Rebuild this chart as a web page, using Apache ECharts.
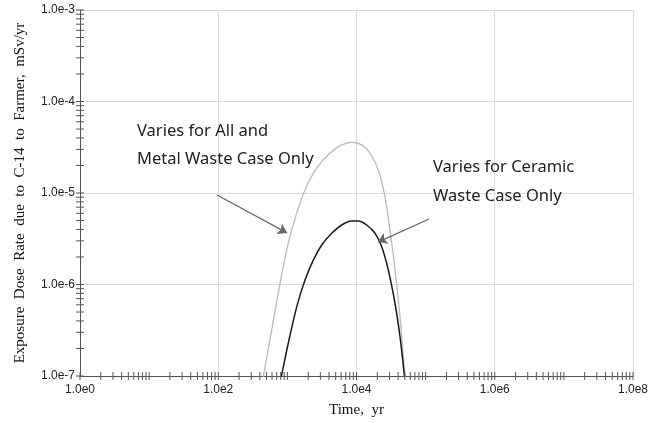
<!DOCTYPE html>
<html>
<head>
<meta charset="utf-8">
<script src="https://cdn.jsdelivr.net/npm/echarts@6/dist/echarts.min.js"></script>
<style>html,body{margin:0;padding:0;background:#fff}#chart{width:661px;height:423px}</style>
</head>
<body>
<div id="chart"></div>
<script>
// time (yr) and dose rate (mSv/yr)
var allTime = [380, 448, 593, 782, 1030, 1365, 1799, 2372, 3140, 4380, 6110, 8530, 11900, 15670, 20660, 25800, 30500, 36100, 42600, 47500, 50300, 54300];
var allDose = [5e-8, 9.8e-8, 3.18e-7, 1.03e-6, 2.82e-6, 6.0e-6, 1.08e-5, 1.64e-5, 2.2e-5, 2.83e-5, 3.35e-5, 3.58e-5, 3.35e-5, 2.72e-5, 1.78e-5, 9.1e-6, 3.95e-6, 1.44e-6, 4.45e-7, 1.63e-7, 9.8e-8, 5e-8];
var ceramicTime = [682, 828, 1030, 1365, 1799, 2372, 3140, 4380, 6110, 8530, 10600, 14060, 18530, 23170, 28840, 36100, 42600, 49200, 54800];
var ceramicDose = [5e-8, 1.03e-7, 2.28e-7, 5.7e-7, 1.12e-6, 1.85e-6, 2.7e-6, 3.63e-6, 4.47e-6, 4.94e-6, 4.94e-6, 4.47e-6, 3.63e-6, 2.59e-6, 1.44e-6, 6.2e-7, 2.69e-7, 1.03e-7, 5e-8];

// log tick positions (major + minor)
var xTicks = [];
for (var e = 0; e < 8; e++) for (var m = 1; m < 10; m++) xTicks.push(m * Math.pow(10, e));
xTicks.push(1e8);
var yTicks = [];
for (var e = -7; e < -3; e++) for (var m = 1; m < 10; m++) yTicks.push(m * Math.pow(10, e));
yTicks.push(1e-3);

// annotation arrows (data coords)
var arrowAll = [[96, 9.5e-6], [988, 3.66e-6]];
var arrowCer = [[112000, 5.2e-6], [20500, 2.91e-6]];

function pairs(xs, ys) { var r = []; for (var i = 0; i < xs.length; i++) r.push([xs[i], ys[i]]); return r; }
function expLabel(v) { return '1.0e' + Math.round(Math.log10(v)); }

var chart = echarts.init(document.getElementById('chart'));
var noteFont = '16.5px "Noto Sans"';
var option = {
  animation: false,
  grid: { left: 80, right: 28, top: 10, bottom: 47 },
  xAxis: {
    type: 'log', logBase: 10, min: 1, max: 1e8, interval: 2,
    name: 'Time,  yr', nameLocation: 'middle', nameGap: 27,
    nameTextStyle: { fontFamily: 'Liberation Serif', fontSize: 15, color: '#111' },
    axisLine: { lineStyle: { color: '#555', width: 1 } },
    axisTick: { show: false },
    axisLabel: { formatter: expLabel, fontFamily: 'Liberation Sans', fontSize: 12, color: '#222', margin: 8 },
    splitLine: { show: true, lineStyle: { color: '#dcdcdc', width: 1 } }
  },
  yAxis: {
    type: 'log', logBase: 10, min: 1e-7, max: 1e-3, interval: 1,
    name: 'Exposure  Dose  Rate  due  to  C-14  to  Farmer,  mSv/yr', nameLocation: 'middle', nameGap: 52,
    nameTextStyle: { fontFamily: 'Liberation Serif', fontSize: 15, color: '#111' },
    axisLine: { lineStyle: { color: '#555', width: 1 } },
    axisTick: { show: false },
    axisLabel: { formatter: expLabel, fontFamily: 'Liberation Sans', fontSize: 12, color: '#222', margin: 5 },
    splitLine: { show: true, lineStyle: { color: '#dcdcdc', width: 1 } }
  },
  series: [
    {
      type: 'line', data: pairs(allTime, allDose), smooth: 0.3, showSymbol: false,
      lineStyle: { color: '#bdbdbd', width: 1.4 }, z: 3,
      markLine: {
        silent: true, symbol: ['none', 'arrow'], symbolSize: 9,
        lineStyle: { color: '#666', width: 1.3, type: 'solid' }, label: { show: false },
        emphasis: { disabled: true },
        data: [
          [{ coord: arrowAll[0] }, { coord: arrowAll[1] }],
          [{ coord: arrowCer[0] }, { coord: arrowCer[1] }]
        ]
      }
    },
    {
      type: 'line', data: pairs(ceramicTime, ceramicDose), smooth: 0.3, showSymbol: false,
      lineStyle: { color: '#1a1a1a', width: 1.5 }, z: 4
    },
    {
      type: 'custom', coordinateSystem: 'cartesian2d', silent: true, z: 5,
      data: xTicks.map(function (v) { return [v, 1e-7]; }),
      renderItem: function (params, api) {
        var p = api.coord([api.value(0), api.value(1)]);
        return { type: 'line', shape: { x1: p[0], y1: p[1] - 4, x2: p[0], y2: p[1] + 4 }, style: { stroke: '#555', lineWidth: 1 } };
      }
    },
    {
      type: 'custom', coordinateSystem: 'cartesian2d', silent: true, z: 5,
      data: yTicks.map(function (v) { return [1, v]; }),
      renderItem: function (params, api) {
        var p = api.coord([api.value(0), api.value(1)]);
        return { type: 'line', shape: { x1: p[0] - 4, y1: p[1], x2: p[0] + 4, y2: p[1] }, style: { stroke: '#555', lineWidth: 1 } };
      }
    }
  ],
  graphic: [
    { type: 'text', z: 100, left: 137, top: 123, style: { text: 'Varies for All and', font: noteFont, fill: '#222' } },
    { type: 'text', z: 100, left: 137, top: 151, style: { text: 'Metal Waste Case Only', font: noteFont, fill: '#222' } },
    { type: 'text', z: 100, left: 433, top: 159, style: { text: 'Varies for Ceramic', font: noteFont, fill: '#222' } },
    { type: 'text', z: 100, left: 433, top: 188, style: { text: 'Waste Case Only', font: noteFont, fill: '#222' } }
  ]
};
chart.setOption(option);
</script>
</body>
</html>
